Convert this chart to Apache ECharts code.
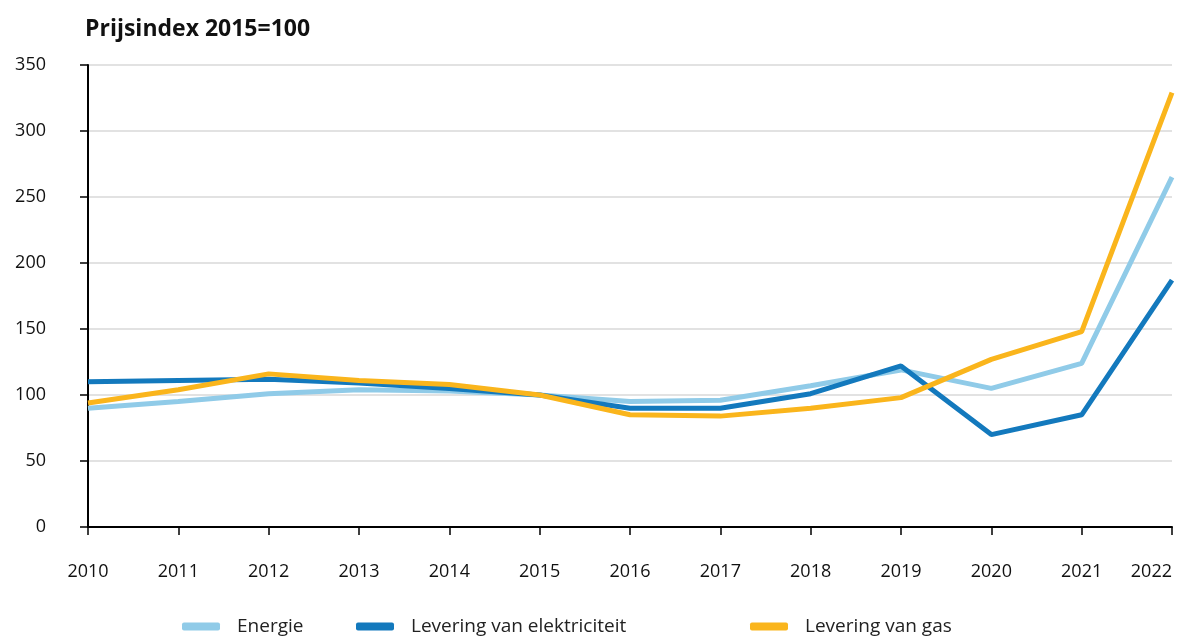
<!DOCTYPE html>
<html><head><meta charset="utf-8">
<script src="https://cdn.jsdelivr.net/npm/echarts@6/dist/echarts.min.js"></script>
<style>html,body{margin:0;padding:0;background:#fff}#c{width:1184px;height:636px}</style>
</head><body><div id="c"></div>
<script>
const years = ['2010','2011','2012','2013','2014','2015','2016','2017','2018','2019','2020','2021','2022'];
const energie = [90, 95, 101, 104, 103, 100, 95, 96, 107, 119, 105, 124, 265];
const elektriciteit = [110, 111, 112, 109, 105, 100, 90, 90, 101, 122, 70, 85, 187];
const gas = [94, 104, 116, 111, 108, 100, 85, 84, 90, 98, 127, 148, 329];
const seriesNames = ['Energie', 'Levering van elektriciteit', 'Levering van gas'];
const colors = ['#90cbe8', '#1379bd', '#fab51c'];
const font = 'Open Sans';

const chart = echarts.init(document.getElementById('c'));
const dataSets = [energie, elektriciteit, gas];
const legendLefts = [182, 356, 750];
chart.setOption({
  animation: false,
  textStyle: {fontFamily: font},
  title: {text: 'Prijsindex 2015=100', left: 80, top: 13,
    textStyle: {fontFamily: font, fontWeight: 'bold', fontSize: 23, color: '#111'}},
  grid: {left: 88, right: 12, top: 65, bottom: 109, outerBoundsMode: 'none', containLabel: false},
  legend: seriesNames.map((n, i) => ({
    data: [n], left: legendLefts[i], top: 617, itemWidth: 38, itemHeight: 8, itemGap: 10, padding: 0,
    icon: 'roundRect',
    textStyle: {fontFamily: font, fontSize: 19, color: '#222', padding: [0,0,0,12]}
  })),
  xAxis: {
    type: 'category', data: years, boundaryGap: false,
    axisLine: {lineStyle: {color: '#000', width: 2}},
    axisTick: {show: true, length: 8, lineStyle: {color: '#000', width: 1.5}},
    axisLabel: {margin: 36, fontSize: 18, color: '#111', fontFamily: font, alignMaxLabel: 'right'}
  },
  yAxis: {
    type: 'value', min: 0, max: 350, interval: 50,
    axisLine: {show: true, lineStyle: {color: '#000', width: 2}},
    axisTick: {show: true, length: 8, lineStyle: {color: '#000', width: 1.5}},
    axisLabel: {margin: 42, fontSize: 18, color: '#111', fontFamily: font, align: 'right', verticalAlign: 'middle'},
    splitLine: {lineStyle: {color: '#e2e2e2', width: 2}}
  },
  series: dataSets.map((d, i) => ({
    name: seriesNames[i], type: 'line', data: d, symbol: 'none',
    lineStyle: {width: 5, color: colors[i]}, itemStyle: {color: colors[i]}
  }))
});
</script></body></html>
